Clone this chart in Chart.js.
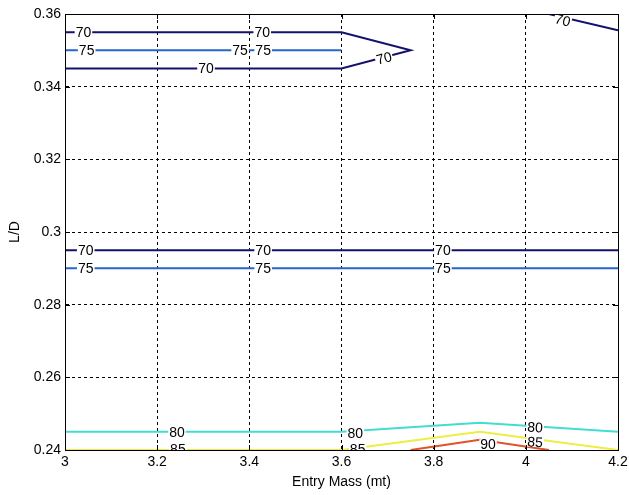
<!DOCTYPE html>
<html>
<head>
<meta charset="utf-8">
<script src="https://cdn.jsdelivr.net/npm/chart.js@4/dist/chart.umd.min.js"></script>
<style>
  body { margin: 0; background: #fff; }
  #wrap { width: 629px; height: 495px; }
</style>
</head>
<body>
<div id="wrap"><canvas id="contour" width="629" height="495"></canvas></div>
<script>
// tick values
const xTicks = [3, 3.2, 3.4, 3.6, 3.8, 4, 4.2];
const yTicks = [0.24, 0.26, 0.28, 0.3, 0.32, 0.34, 0.36];

// contour lines (entry mass, L/D)
const c70aX = [3, 3.6, 3.75, 3.6, 3];
const c70aY = [0.355, 0.355, 0.35, 0.345, 0.345];
const c75aX = [3, 3.6];
const c75aY = [0.35, 0.35];
const c70bX = [4.05, 4.2];
const c70bY = [0.36, 0.3555];
const c70cX = [3, 4.2];
const c70cY = [0.295, 0.295];
const c75bX = [3, 4.2];
const c75bY = [0.29, 0.29];
const c80X = [3, 3.6, 3.9, 4.2];
const c80Y = [0.245, 0.245, 0.2475, 0.245];
const c85X = [3, 3.6, 3.9, 4.2];
const c85Y = [0.24, 0.24, 0.245, 0.24];
const c90X = [3.75, 3.9, 4.05];
const c90Y = [0.24, 0.2428, 0.24];

// inline contour labels
const labelText = ['70', '70', '75', '75', '75', '70', '70', '70',
                   '70', '70', '70', '75', '75', '75',
                   '80', '85', '80', '85', '80', '85', '90'];
const labelX = [3.04, 3.428, 3.047, 3.38, 3.43, 3.306, 3.692, 4.08,
                3.045, 3.43, 3.82, 3.045, 3.43, 3.82,
                3.243, 3.245, 3.63, 3.635, 4.02, 4.02, 3.918];
const labelY = [0.355, 0.355, 0.35, 0.35, 0.35, 0.345, 0.3479, 0.3583,
                0.295, 0.295, 0.295, 0.29, 0.29, 0.29,
                0.245, 0.2402, 0.2446, 0.2402, 0.2463, 0.2422, 0.2416];
const labelAngle = [0, 0, 0, 0, 0, 0, -15, 15,
                    0, 0, 0, 0, 0, 0,
                    0, 0, 0, 0, 4, 4, 0];

const FONT = '"Liberation Sans", Arial, Helvetica, sans-serif';
Chart.defaults.font.family = FONT;
Chart.defaults.color = '#000';

const mkLine = (xs, ys, color) => ({
    data: xs.map((x, i) => ({ x, y: ys[i] })),
    borderColor: color,
    borderWidth: 2,
    pointRadius: 0,
    fill: false,
    tension: 0,
    clip: 0
});

const NAVY = '#12126e', BLUE = '#2466cc', CYAN = '#42dcd2', YELLOW = '#eeee42', RED = '#e0522a';

const contourLabels = {
    id: 'contourLabels',
    afterDatasetsDraw(chart) {
        const { ctx, chartArea: a, scales: { x, y } } = chart;
        ctx.save();
        ctx.beginPath();
        ctx.rect(a.left, a.top, a.right - a.left, a.bottom - a.top);
        ctx.clip();
        ctx.font = '14px ' + FONT;
        ctx.textAlign = 'center';
        ctx.textBaseline = 'middle';
        labelText.forEach((t, i) => {
            const px = x.getPixelForValue(labelX[i]);
            const py = y.getPixelForValue(labelY[i]);
            const w = ctx.measureText(t).width;
            ctx.save();
            ctx.translate(px, py);
            ctx.rotate(labelAngle[i] * Math.PI / 180);
            ctx.fillStyle = '#fff';
            ctx.fillRect(-w / 2 - 1, -5, w + 2, 10);
            ctx.fillStyle = '#000';
            ctx.fillText(t, 0, 1);
            ctx.restore();
        });
        ctx.restore();
    },
    afterDraw(chart) {
        const { ctx, chartArea: a, scales: { x, y } } = chart;
        ctx.save();
        ctx.strokeStyle = '#000';
        ctx.lineWidth = 1;
        ctx.strokeRect(Math.round(a.left) + 0.5, Math.round(a.top) + 0.5,
                       Math.round(a.right - a.left), Math.round(a.bottom - a.top));
        // inward tick marks
        ctx.beginPath();
        xTicks.forEach(v => {
            const p = Math.round(x.getPixelForValue(v)) + 0.5;
            ctx.moveTo(p, a.bottom); ctx.lineTo(p, a.bottom - 5);
            ctx.moveTo(p, a.top); ctx.lineTo(p, a.top + 5);
        });
        yTicks.forEach(v => {
            const p = Math.round(y.getPixelForValue(v)) + 0.5;
            ctx.moveTo(a.left, p); ctx.lineTo(a.left + 5, p);
            ctx.moveTo(a.right, p); ctx.lineTo(a.right - 5, p);
        });
        ctx.stroke();
        ctx.restore();
    }
};

const fmt = v => String(Number(Number(v).toFixed(2)));

new Chart(document.getElementById('contour'), {
    type: 'line',
    data: {
        datasets: [
            mkLine(c90X, c90Y, RED),
            mkLine(c85X, c85Y, YELLOW),
            mkLine(c80X, c80Y, CYAN),
            mkLine(c75aX, c75aY, BLUE),
            mkLine(c75bX, c75bY, BLUE),
            mkLine(c70aX, c70aY, NAVY),
            mkLine(c70bX, c70bY, NAVY),
            mkLine(c70cX, c70cY, NAVY)
        ]
    },
    options: {
        responsive: false,
        animation: false,
        devicePixelRatio: 1,
        layout: { padding: { top: 14, right: 11, left: 7, bottom: 4 } },
        plugins: { legend: { display: false }, tooltip: { enabled: false } },
        scales: {
            x: {
                type: 'linear',
                min: 3, max: 4.2,
                afterBuildTicks: s => { s.ticks = xTicks.map(v => ({ value: v })); },
                afterFit: s => { s.height = 41; s.paddingLeft = 0; s.paddingRight = 0; },
                ticks: { callback: fmt, padding: 4, font: { size: 14 }, maxRotation: 0, autoSkip: false },
                grid: { color: '#000', borderDash: [3, 3], drawTicks: false, lineWidth: 1 },
                border: { display: true, color: '#000', dash: [3, 3] },
                title: { display: true, text: 'Entry Mass (mt)', font: { size: 14 }, padding: 0 }
            },
            y: {
                type: 'linear',
                min: 0.24, max: 0.36,
                afterBuildTicks: s => { s.ticks = yTicks.map(v => ({ value: v })); },
                afterFit: s => { s.width = 58; s.paddingTop = 0; s.paddingBottom = 0; },
                ticks: { callback: fmt, padding: 4, font: { size: 14 }, autoSkip: false },
                grid: { color: '#000', drawTicks: false, lineWidth: 1 },
                border: { display: true, color: '#000', dash: [3, 3] },
                title: { display: true, text: 'L/D', font: { size: 14 }, padding: 0 }
            }
        }
    },
    plugins: [contourLabels]
});
</script>
</body>
</html>
